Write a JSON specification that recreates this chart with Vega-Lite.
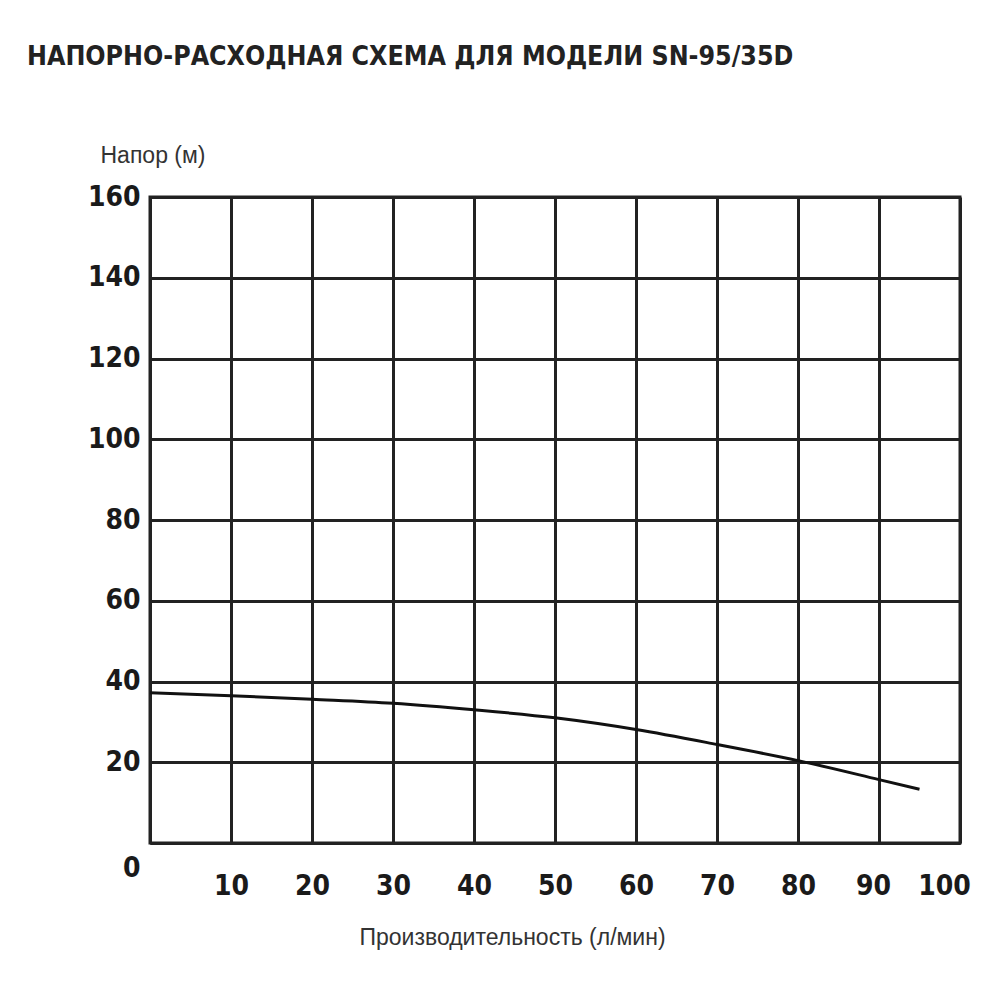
{
  "$schema": "https://vega.github.io/schema/vega-lite/v6.json",
  "width": 810,
  "height": 646,
  "autosize": "none",
  "padding": {"left": 150, "top": 197, "right": 40, "bottom": 157},
  "background": "white",
  "title": {
    "text": "НАПОРНО-РАСХОДНАЯ СХЕМА ДЛЯ МОДЕЛИ SN-95/35D",
    "font": "DejaVu Sans Condensed",
    "fontSize": 26.5,
    "fontWeight": "bold",
    "color": "#222222",
    "anchor": "start",
    "frame": "group",
    "dx": -123,
    "offset": 74
  },
  "config": {
    "view": {"stroke": "#222222", "strokeWidth": 3},
    "axis": {
      "domainColor": "#222222",
      "domainWidth": 3,
      "gridColor": "#222222",
      "gridWidth": 3,
      "gridOpacity": 1,
      "ticks": false,
      "labelFont": "DejaVu Sans Condensed",
      "labelFontSize": 28,
      "labelFontWeight": "bold",
      "labelColor": "#1a1a1a",
      "titleFont": "Liberation Sans",
      "titleFontSize": 23,
      "titleFontWeight": "normal",
      "titleColor": "#333333"
    }
  },
  "data": {
    "values": [
      {"flow": 0, "head": 37.2},
      {"flow": 10, "head": 36.5},
      {"flow": 20, "head": 35.6},
      {"flow": 30, "head": 34.6},
      {"flow": 40, "head": 33.0},
      {"flow": 50, "head": 31.0},
      {"flow": 60, "head": 28.1},
      {"flow": 70, "head": 24.4},
      {"flow": 80, "head": 20.4},
      {"flow": 90, "head": 15.7},
      {"flow": 95, "head": 13.3}
    ]
  },
  "mark": {"type": "line", "color": "#111111", "strokeWidth": 3, "interpolate": "monotone"},
  "encoding": {
    "x": {
      "field": "flow",
      "type": "quantitative",
      "scale": {"domain": [0, 100], "nice": false},
      "axis": {
        "values": [0, 10, 20, 30, 40, 50, 60, 70, 80, 90, 100],
        "labelExpr": "datum.value == 0 ? '' : datum.label",
        "labelPadding": 29,
        "labelOffset": {"expr": "datum.value == 100 ? -16 : (datum.value == 90 ? -6 : 0)"},
        "labelFlush": false,
        "title": "Производительность (л/мин)",
        "titleX": 362,
        "titleY": 94,
        "titleAlign": "center",
        "titleBaseline": "middle"
      }
    },
    "y": {
      "field": "head",
      "type": "quantitative",
      "scale": {"domain": [0, 160], "nice": false},
      "axis": {
        "values": [0, 20, 40, 60, 80, 100, 120, 140, 160],
        "labelPadding": 10,
        "labelOffset": {"expr": "datum.value == 0 ? 25 : 0"},
        "labelFlush": false,
        "labelBaseline": "middle",
        "title": "Напор (м)",
        "titleAngle": 0,
        "titleX": -50,
        "titleY": -42,
        "titleAlign": "left",
        "titleBaseline": "middle"
      }
    }
  }
}
